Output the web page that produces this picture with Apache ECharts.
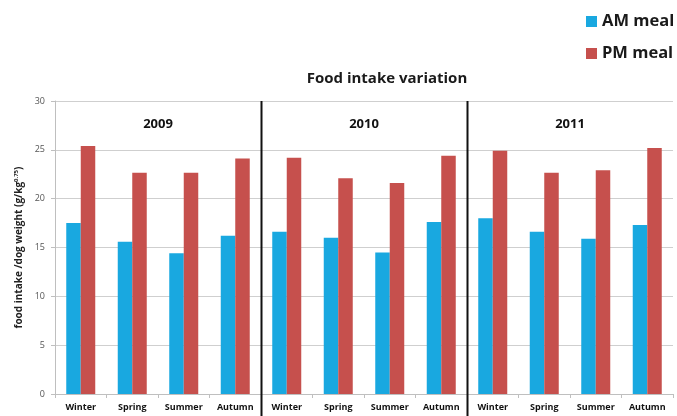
<!DOCTYPE html>
<html>
<head>
<meta charset="utf-8">
<script src="https://cdn.jsdelivr.net/npm/echarts@6/dist/echarts.min.js"></script>
<style>
  html, body { margin: 0; padding: 0; background: #fff; }
  #chart { width: 677px; height: 416px; }
</style>
</head>
<body>
<div id="chart"></div>
<script>
// Seasons repeated for each year of the study
const years = ['2009', '2010', '2011'];
const seasons = ['Winter', 'Spring', 'Summer', 'Autumn'];
const categories = years.flatMap(() => seasons);

// Food intake per dog weight (g/kg^0.75)
const amMeal = [17.5, 15.6, 14.4, 16.2, 16.6, 16.0, 14.5, 17.6, 18.0, 16.6, 15.9, 17.3];
const pmMeal = [25.4, 22.65, 22.65, 24.1, 24.2, 22.1, 21.6, 24.4, 24.9, 22.65, 22.9, 25.2];

const yTicks = [0, 5, 10, 15, 20, 25, 30];

const FONT = '"Open Sans", "Noto Sans", sans-serif';
const chart = echarts.init(document.getElementById('chart'));

chart.setOption({
  animation: false,
  textStyle: { fontFamily: FONT },
  title: {
    text: 'Food intake variation',
    left: 382, top: 66,
    textAlign: 'center',
    textStyle: { fontSize: 15, fontWeight: 'bold', color: '#1a1a1a', fontFamily: FONT }
  },
  legend: {
    orient: 'vertical',
    left: 581, top: 8,
    itemWidth: 11, itemHeight: 11,
    itemGap: 15,
    icon: 'rect',
    textStyle: { fontSize: 16.5, fontWeight: 'bold', color: '#1a1a1a', fontFamily: FONT, padding: [0, 0, 0, 0] },
    data: ['AM meal', 'PM meal']
  },
  grid: { left: 55, right: 4, top: 101, bottom: 22 },
  xAxis: [
    {
      type: 'category',
      data: categories,
      axisLine: { lineStyle: { color: '#bfbfbf' } },
      axisTick: { show: true, length: 4, lineStyle: { color: '#bfbfbf' } },
      axisLabel: { fontSize: 9, fontWeight: 'bold', color: '#111', margin: 9, fontFamily: FONT, interval: 0 }
    },
    {
      type: 'category',
      data: years,
      position: 'top',
      axisLine: { show: false },
      axisTick: { show: false },
      splitLine: { show: false },
      axisLabel: { inside: true, margin: 17, fontSize: 13, fontWeight: 'bold', color: '#111', fontFamily: FONT }
    }
  ],
  yAxis: {
    type: 'value',
    min: yTicks[0], max: yTicks[yTicks.length - 1], interval: 5,
    name: '{n|food intake /dog weight (g/kg}{s|0.75}{n|)}',
    nameLocation: 'middle',
    nameGap: 19,
    nameRotate: 90,
    nameTextStyle: {
      rich: {
        n: { fontSize: 10, fontWeight: 'bold', color: '#222', fontFamily: FONT },
        s: { fontSize: 6, fontWeight: 'bold', color: '#222', fontFamily: FONT, verticalAlign: 'top', padding: [0, 0, 5, 0] }
      }
    },
    axisLine: { show: true, lineStyle: { color: '#bfbfbf' } },
    axisTick: { show: true, length: 4, lineStyle: { color: '#bfbfbf' } },
    axisLabel: { fontSize: 9, color: '#555', margin: 10, fontFamily: FONT },
    splitLine: { lineStyle: { color: '#cfcfcf', width: 1 } }
  },
  series: [
    {
      name: 'AM meal',
      type: 'bar',
      data: amMeal,
      barWidth: 14.5,
      barGap: '0%',
      itemStyle: { color: '#19a8e0' }
    },
    {
      name: 'PM meal',
      type: 'bar',
      data: pmMeal,
      barWidth: 14.5,
      barGap: '0%',
      itemStyle: { color: '#c6504d' }
    }
  ]
});

// Black dividers between the year groups, running down through the season labels
function drawDividers() {
  const lines = [];
  for (let g = 1; g < years.length; g++) {
    const lastIdx = g * seasons.length - 1;
    const a = chart.convertToPixel({ xAxisIndex: 0 }, lastIdx);
    const b = chart.convertToPixel({ xAxisIndex: 0 }, lastIdx + 1);
    const x = Math.round((a + b) / 2) + 0.5;
    const top = chart.convertToPixel({ yAxisIndex: 0 }, yTicks[yTicks.length - 1]);
    lines.push({
      type: 'line',
      shape: { x1: x, y1: top, x2: x, y2: 416 },
      style: { stroke: '#111', lineWidth: 2 },
      z: 10
    });
  }
  chart.setOption({ graphic: lines });
}
drawDividers();
</script>
</body>
</html>
